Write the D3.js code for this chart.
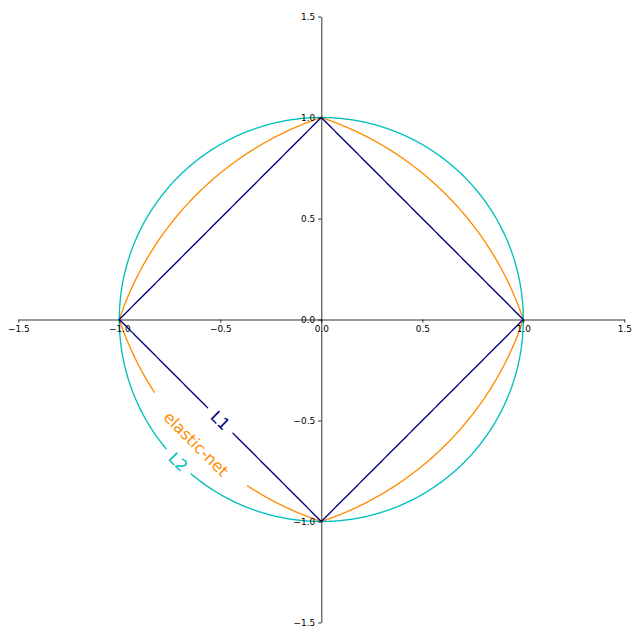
<!DOCTYPE html>
<html><head><meta charset="utf-8">
<script src="https://cdn.jsdelivr.net/npm/d3@7"></script>
<style>body{margin:0;background:#fff}svg{display:block}</style>
</head><body><svg id="c" width="640" height="640"></svg>
<script>
// ---- data ----
const penaltyNames = ["elastic-net", "L2", "L1"];
const penaltyColors = ["#ff8c00", "#00bfbf", "#000080"];
const contourLevels = [1];
const l1Ratio = 0.5;
const axisDomain = [-1.5, 1.5];
const xTickValues = [-1.5, -1.0, -0.5, 0.0, 0.5, 1.0, 1.5];
const yTickValues = [-1.5, -1.0, -0.5, 0.0, 0.5, 1.0, 1.5];
const labelAnchor = [-1, -1];
const gridSize = 601;

// penalty functions whose level sets are drawn
const penalties = {
  "L1": (x, y) => Math.abs(x) + Math.abs(y),
  "L2": (x, y) => x * x + y * y,
  "elastic-net": (x, y) => l1Ratio * (Math.abs(x) + Math.abs(y)) + (1 - l1Ratio) * (x * x + y * y)
};

const svg = d3.select("#c");
const x = d3.scaleLinear().domain(axisDomain).range([18.3, 624.3]);
const y = d3.scaleLinear().domain(axisDomain).range([622.5, 16.5]);

const step = (axisDomain[1] - axisDomain[0]) / (gridSize - 1);
const gx = i => axisDomain[0] + (i - 0.5) * step;

function contourRings(fn) {
  const values = new Array(gridSize * gridSize);
  for (let j = 0; j < gridSize; j++) {
    const yy = axisDomain[0] + j * step;
    for (let i = 0; i < gridSize; i++) {
      values[j * gridSize + i] = fn(axisDomain[0] + i * step, yy);
    }
  }
  const cs = d3.contours().size([gridSize, gridSize]).thresholds(contourLevels)(values);
  const rings = [];
  cs[0].coordinates.forEach(poly => poly.forEach(ring => {
    const pts = ring.map(p => [gx(p[0]), gx(p[1])]);
    // drop the ring that runs along the edge of the grid
    const m = d3.max(pts, p => Math.max(Math.abs(p[0]), Math.abs(p[1])));
    if (m < axisDomain[1] - 2 * step) rings.push(pts);
  }));
  return rings;
}

const line = d3.line().x(d => x(d[0])).y(d => y(d[1]));
const defs = svg.append("defs");
const gLines = svg.append("g");
const gLabels = svg.append("g");

const measure = svg.append("text").attr("font-family", "DejaVu Sans").attr("font-size", 16).attr("visibility", "hidden");

penaltyNames.forEach((name, k) => {
  const rings = contourRings(penalties[name]);
  // label position: contour point nearest the anchor
  let best = null, bd = Infinity;
  rings.forEach(r => r.forEach(p => {
    const d = (p[0] - labelAnchor[0]) ** 2 + (p[1] - labelAnchor[1]) ** 2;
    if (d < bd) { bd = d; best = p; }
  }));
  const lx = x(best[0]), ly = y(best[1]);
  measure.text(name);
  const w = measure.node().getComputedTextLength();
  const r = w * 0.75 + 3;
  const mask = defs.append("mask").attr("id", "m" + k).attr("maskUnits", "userSpaceOnUse")
    .attr("x", 0).attr("y", 0).attr("width", 640).attr("height", 640);
  mask.append("rect").attr("width", 640).attr("height", 640).attr("fill", "#fff");
  mask.append("circle").attr("cx", lx).attr("cy", ly).attr("r", r).attr("fill", "#000");

  gLines.append("g").attr("mask", "url(#m" + k + ")")
    .selectAll("path").data(rings).join("path")
    .attr("d", d => line(d) + "Z")
    .attr("fill", "none").attr("stroke", penaltyColors[k]).attr("stroke-width", 1.35);

  gLabels.append("text")
    .attr("transform", `translate(${lx},${ly}) rotate(45)`)
    .attr("text-anchor", "middle").attr("dy", "0.35em")
    .attr("font-family", "DejaVu Sans").attr("font-size", 16)
    .attr("fill", penaltyColors[k]).text(name);
});
measure.remove();

const fmt = d3.format(".1f");
const xAxis = svg.append("g").attr("transform", `translate(0,${y(0)})`)
  .call(d3.axisBottom(x).tickValues(xTickValues).tickFormat(fmt).tickSize(3.1).tickSizeOuter(0).tickPadding(3.1));
const yAxis = svg.append("g").attr("transform", `translate(${x(0)},0)`)
  .call(d3.axisLeft(y).tickValues(yTickValues).tickFormat(fmt).tickSize(3.1).tickSizeOuter(0).tickPadding(3.1));
[xAxis, yAxis].forEach(a => {
  a.attr("font-family", "DejaVu Sans").attr("font-size", 8.9);
  a.select(".domain").attr("stroke", "#000").attr("stroke-width", 0.8);
  a.selectAll(".tick line").attr("stroke", "#000").attr("stroke-width", 0.8);
  a.selectAll(".tick text").attr("fill", "#000");
});
</script></body></html>
